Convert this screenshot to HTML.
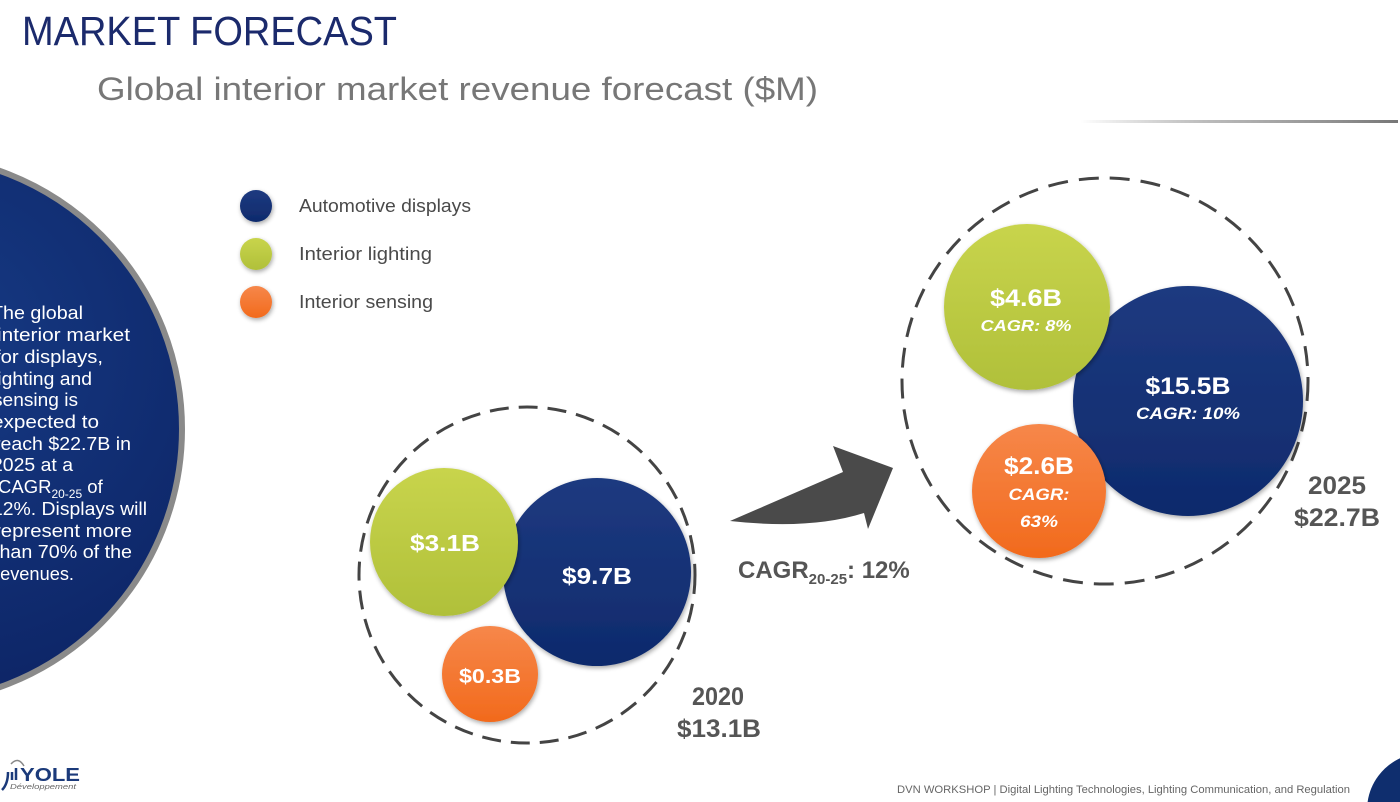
<!DOCTYPE html>
<html>
<head>
<meta charset="utf-8">
<style>
  html,body{margin:0;padding:0;background:#fff;width:1400px;height:802px;overflow:hidden;}
  svg{display:block;overflow:hidden;}
  text{font-family:"Liberation Sans",sans-serif;}
</style>
</head>
<body>
<svg width="1400" height="802" viewBox="0 0 1400 802" xmlns="http://www.w3.org/2000/svg">
  <defs>
    <clipPath id="frame"><rect x="0" y="0" width="1400" height="802"/></clipPath>
    <radialGradient id="navyBig" cx="0.55" cy="0.35" r="0.75">
      <stop offset="0" stop-color="#163a84"/>
      <stop offset="1" stop-color="#0c2262"/>
    </radialGradient>
    <linearGradient id="navy" x1="0" y1="0" x2="0" y2="1">
      <stop offset="0" stop-color="#1e3a80"/>
      <stop offset="1" stop-color="#0e2a6c"/>
    </linearGradient>
    <linearGradient id="green" x1="0" y1="0" x2="0" y2="1">
      <stop offset="0" stop-color="#c8d44c"/>
      <stop offset="1" stop-color="#b0c03a"/>
    </linearGradient>
    <linearGradient id="orange" x1="0" y1="0" x2="0" y2="1">
      <stop offset="0" stop-color="#f6874a"/>
      <stop offset="1" stop-color="#f26a1c"/>
    </linearGradient>
    <linearGradient id="rule" x1="0" y1="0" x2="1" y2="0">
      <stop offset="0" stop-color="#999" stop-opacity="0"/>
      <stop offset="0.4" stop-color="#aaa" stop-opacity="0.8"/>
      <stop offset="1" stop-color="#777"/>
    </linearGradient>
    <filter id="sh" x="-20%" y="-20%" width="140%" height="140%">
      <feGaussianBlur in="SourceAlpha" stdDeviation="2.5"/>
      <feOffset dx="1" dy="2" result="b"/>
      <feComponentTransfer><feFuncA type="linear" slope="0.35"/></feComponentTransfer>
      <feMerge><feMergeNode/><feMergeNode in="SourceGraphic"/></feMerge>
    </filter>
  </defs>

  <g clip-path="url(#frame)">
  <!-- Header -->
  <text x="22" y="45" font-size="41" fill="#1b2a6c" textLength="375" lengthAdjust="spacingAndGlyphs">MARKET FORECAST</text>
  <text x="97" y="100" font-size="32" fill="#777" textLength="721" lengthAdjust="spacingAndGlyphs">Global interior market revenue forecast ($M)</text>
  <rect x="1080" y="120" width="318" height="3" fill="url(#rule)"/>

  <!-- Left big circle -->
  <circle cx="-92" cy="429" r="274" fill="url(#navyBig)" stroke="#8a8a8a" stroke-width="6"/>
  <g fill="#fff" font-size="18.5">
    <text x="-9" y="319" textLength="92" lengthAdjust="spacingAndGlyphs">The global</text>
    <text x="-3" y="341" textLength="133" lengthAdjust="spacingAndGlyphs">interior market</text>
    <text x="-5" y="363" textLength="108" lengthAdjust="spacingAndGlyphs">for displays,</text>
    <text x="-7" y="385" textLength="99" lengthAdjust="spacingAndGlyphs">lighting and</text>
    <text x="-7" y="406" textLength="85" lengthAdjust="spacingAndGlyphs">sensing is</text>
    <text x="-8" y="428" textLength="107" lengthAdjust="spacingAndGlyphs">expected to</text>
    <text x="-6" y="450" textLength="137" lengthAdjust="spacingAndGlyphs">reach $22.7B in</text>
    <text x="-8" y="471" textLength="81" lengthAdjust="spacingAndGlyphs">2025 at a</text>
    <text x="-2" y="493"><tspan>CAGR</tspan><tspan font-size="12" dy="5">20-25</tspan><tspan dy="-5"> of</tspan></text>
    <text x="-8" y="515" textLength="155" lengthAdjust="spacingAndGlyphs">12%. Displays will</text>
    <text x="-6" y="537" textLength="138" lengthAdjust="spacingAndGlyphs">represent more</text>
    <text x="-6" y="558" textLength="138" lengthAdjust="spacingAndGlyphs">than 70% of the</text>
    <text x="-6" y="580" textLength="80" lengthAdjust="spacingAndGlyphs">revenues.</text>
  </g>

  <!-- Legend -->
  <circle cx="256" cy="206" r="16" fill="url(#navy)" filter="url(#sh)"/>
  <circle cx="256" cy="254" r="16" fill="url(#green)" filter="url(#sh)"/>
  <circle cx="256" cy="302" r="16" fill="url(#orange)" filter="url(#sh)"/>
  <g fill="#4a4a4a" font-size="18">
    <text x="299" y="212" textLength="172" lengthAdjust="spacingAndGlyphs">Automotive displays</text>
    <text x="299" y="260" textLength="133" lengthAdjust="spacingAndGlyphs">Interior lighting</text>
    <text x="299" y="308" textLength="134" lengthAdjust="spacingAndGlyphs">Interior sensing</text>
  </g>

  <!-- 2020 cluster -->
  <circle cx="527" cy="575" r="168" fill="none" stroke="#444" stroke-width="3" stroke-dasharray="19 10"/>
  <circle cx="597" cy="572" r="94" fill="url(#navy)" filter="url(#sh)"/>
  <circle cx="444" cy="542" r="74" fill="url(#green)" filter="url(#sh)"/>
  <circle cx="490" cy="674" r="48" fill="url(#orange)" filter="url(#sh)"/>
  <g fill="#fff" font-weight="bold" text-anchor="middle">
    <text x="445" y="551" font-size="23" textLength="70" lengthAdjust="spacingAndGlyphs">$3.1B</text>
    <text x="597" y="584" font-size="23" textLength="70" lengthAdjust="spacingAndGlyphs">$9.7B</text>
    <text x="490" y="683" font-size="20" textLength="62" lengthAdjust="spacingAndGlyphs">$0.3B</text>
  </g>
  <g fill="#555" font-weight="bold">
    <text x="692" y="705" font-size="25" textLength="52" lengthAdjust="spacingAndGlyphs">2020</text>
    <text x="677" y="737" font-size="25" textLength="84" lengthAdjust="spacingAndGlyphs">$13.1B</text>
  </g>

  <!-- Arrow -->
  <path d="M730,521 Q790,495 843,472 L833,446 L893,468 L868,529 L864,513 Q810,530 730,521 Z" fill="#4a4a4a"/>
  <text x="738" y="578" font-size="24" font-weight="bold" fill="#555"><tspan>CAGR</tspan><tspan font-size="15" dy="6">20-25</tspan><tspan dy="-6">: 12%</tspan></text>

  <!-- 2025 cluster -->
  <circle cx="1105" cy="381" r="203" fill="none" stroke="#444" stroke-width="3" stroke-dasharray="20 11"/>
  <circle cx="1188" cy="401" r="115" fill="url(#navy)" filter="url(#sh)"/>
  <circle cx="1027" cy="307" r="83" fill="url(#green)" filter="url(#sh)"/>
  <circle cx="1039" cy="491" r="67" fill="url(#orange)" filter="url(#sh)"/>
  <g fill="#fff" font-weight="bold" text-anchor="middle">
    <text x="1026" y="306" font-size="24" textLength="72" lengthAdjust="spacingAndGlyphs">$4.6B</text>
    <text x="1026" y="331" font-size="16" font-style="italic" textLength="91" lengthAdjust="spacingAndGlyphs">CAGR: 8%</text>
    <text x="1188" y="394" font-size="24" textLength="85" lengthAdjust="spacingAndGlyphs">$15.5B</text>
    <text x="1188" y="419" font-size="17" font-style="italic" textLength="104" lengthAdjust="spacingAndGlyphs">CAGR: 10%</text>
    <text x="1039" y="474" font-size="24" textLength="70" lengthAdjust="spacingAndGlyphs">$2.6B</text>
    <text x="1039" y="500" font-size="17" font-style="italic" textLength="61" lengthAdjust="spacingAndGlyphs">CAGR:</text>
    <text x="1039" y="527" font-size="17" font-style="italic" textLength="38" lengthAdjust="spacingAndGlyphs">63%</text>
  </g>
  <g fill="#555" font-weight="bold">
    <text x="1308" y="494" font-size="25" textLength="58" lengthAdjust="spacingAndGlyphs">2025</text>
    <text x="1294" y="526" font-size="25" textLength="86" lengthAdjust="spacingAndGlyphs">$22.7B</text>
  </g>

  <!-- Footer -->
  <g>
    <path d="M2,790 Q8,784 8,772" stroke="#1b3a7a" stroke-width="2.5" fill="none"/>
    <path d="M12,780 L12,772 M16,780 L16,768" stroke="#1b3a7a" stroke-width="2.5"/>
    <path d="M11,764 Q18,756 24,766" stroke="#888" stroke-width="1.5" fill="none"/>
    <text x="20" y="781" font-size="18" font-weight="bold" fill="#1b3a7a" textLength="60" lengthAdjust="spacingAndGlyphs">YOLE</text>
    <text x="10" y="789" font-size="7" font-style="italic" fill="#666" textLength="66" lengthAdjust="spacingAndGlyphs">Développement</text>
  </g>
  <text x="897" y="793" font-size="11" fill="#666" textLength="453" lengthAdjust="spacingAndGlyphs">DVN WORKSHOP | Digital Lighting Technologies, Lighting Communication, and Regulation</text>
  <path d="M1367.6,802 A57,57 0 0 1 1400,758.3 L1400,802 Z" fill="#0f2e6e"/>
  </g>
</svg>
</body>
</html>
